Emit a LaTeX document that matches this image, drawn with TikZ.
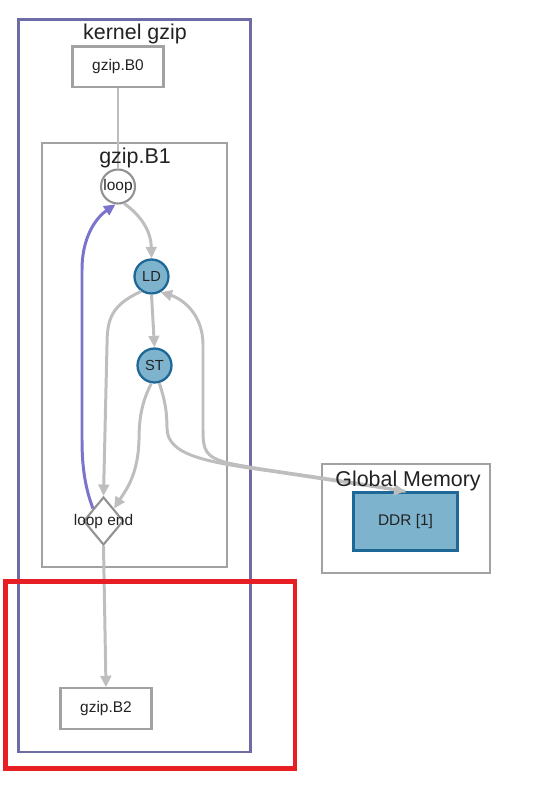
\documentclass[tikz,border=0pt]{standalone}
\usepackage{fontspec}
\setmainfont{Liberation Sans}
\usetikzlibrary{arrows.meta, shapes.geometric}
\definecolor{kernline}{HTML}{6E6CA6}
\definecolor{grpline}{HTML}{A2A2A2}
\definecolor{edgegray}{HTML}{BEBEBE}
\definecolor{memfill}{HTML}{7DB3CD}
\definecolor{memline}{HTML}{1D6896}
\definecolor{backedge}{HTML}{7B73CC}
\definecolor{hilite}{HTML}{E81E25}
\definecolor{txt}{HTML}{222222}

\begin{document}
\begin{tikzpicture}[
  x=0.02cm, y=-0.02cm, text=txt,
  ttl/.style={font=\fontsize{12.2}{14}\selectfont, inner sep=0pt},
  lbl/.style={font=\fontsize{8.8}{10}\selectfont, inner sep=0pt},
  grp/.style={draw=grpline, line width=1.2pt},
  blk/.style={draw=grpline, line width=1.2pt, fill=white, minimum width=1.82cm,
              minimum height=0.81cm, font=\fontsize{8.8}{10}\selectfont},
  op/.style={circle, draw=memline, line width=1.3pt, fill=memfill, minimum size=0.68cm,
             inner sep=0pt, font=\fontsize{8.3}{10}\selectfont},
  ctl/.style={circle, draw=grpline!90!black, line width=1.2pt, fill=white,
              minimum size=0.68cm, inner sep=0pt, font=\fontsize{8.8}{10}\selectfont},
  dmd/.style={diamond, draw=grpline!90!black, line width=1.2pt, fill=white,
              minimum width=0.8cm, minimum height=0.96cm, inner sep=0pt},
  edge/.style={draw=edgegray, line width=1.7pt, -{Triangle[length=6.5pt,width=6pt]}},
  back/.style={edge, draw=backedge}]
\useasboundingbox (0,0) rectangle (542,800);

% containers
\draw[draw=kernline, line width=1.5pt] (18.5,19.5) rectangle (250.5,752);
\draw[grp] (42,143) rectangle (227,567);
\draw[grp] (322,464) rectangle (490,573);

% blocks and ops
\node[blk] (b0) at (118,66.7) {gzip.B0};
\node[ctl] (loop) at (118,186.5) {loop};
\node[op] (ld) at (151.5,276.5) {LD};
\node[op] (st) at (154.5,365.5) {ST};
\node[dmd] (lend) at (103.5,521) {};
\node[lbl] (lendT) at (lend) {loop end};
\node[blk] (b2) at (106,708.5) {gzip.B2};
\node[draw=memline, line width=1.3pt, fill=memfill, minimum width=2.08cm,
      minimum height=1.16cm, font=\fontsize{8.8}{10}\selectfont] (ddr) at (405.5,521.5) {DDR [1]};

% connections
\draw[draw=edgegray, line width=1.7pt] (b0.south) -- (loop.north);
\draw[edge] (loop.290) .. controls (140,215) and (151,230) .. (ld.north);
\draw[edge] (ld.south) -- (st.north);
\draw[edge] (ld.235) .. controls (112,305) and (107,318) .. (107,345) -- (lend.north);
\draw[edge] (st.260) .. controls (143,400) and (139,415) .. (139,440)
  .. controls (138,475) and (126,490) .. (lend.north east);
\draw[edge] (st.285) .. controls (165,400) and (167,412) .. (167,428)
  .. controls (167,455) and (205,462) .. (270,471) .. controls (330,480) .. (ddr.north);
\draw[edge] (ddr.north) .. controls (330,478) and (260,470) .. (228,463)
  .. controls (205,457) and (203,450) .. (203,430) -- (203,345)
  .. controls (203,312) and (180,298) .. (ld.-60);
\draw[back] (lend.north west) .. controls (86,490) and (82,470) .. (82,440) -- (82,270)
  .. controls (82,232) and (100,215) .. (loop.262);
\draw[edge] (lend.south) -- (b2.north);

% titles
\node[ttl] (kernT) at (135,34) {kernel gzip};
\node[ttl] (b1T) at (135,158) {gzip.B1};
\node[ttl] (memT) at (408,481) {Global Memory};

% highlight
\draw[draw=hilite, line width=2.8pt] (5.5,581.5) rectangle (295,768.5);
\end{tikzpicture}
\end{document}
